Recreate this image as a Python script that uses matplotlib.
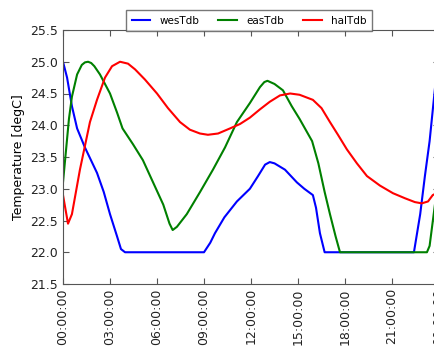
import matplotlib
matplotlib.use("Agg")
import matplotlib.pyplot as plt
import numpy as np

# hours since midnight
wes_t = [0, 0.26, 0.57, 0.9, 1.4, 2.17, 2.6, 3.0, 3.45, 3.7, 3.96, 9.0, 9.4, 9.7, 10.3, 11.1,
         11.93, 12.45, 12.9, 13.2, 13.5, 14.17, 14.93, 15.4, 15.95, 16.15, 16.4, 16.7,
         22.4, 22.8, 23.1, 23.4, 23.75, 24.0]
wes_v = [25.0, 24.75, 24.3, 23.95, 23.65, 23.25, 22.95, 22.6, 22.25, 22.05, 22.0, 22.0, 22.15,
         22.3, 22.55, 22.8, 23.0, 23.2, 23.38, 23.42, 23.4, 23.3, 23.1, 23.0, 22.9, 22.7, 22.3,
         22.0, 22.0, 22.6, 23.2, 23.75, 24.6, 25.0]

eas_t = [0, 0.19, 0.38, 0.57, 0.9, 1.2, 1.4, 1.6, 1.8, 2.0, 2.36, 3.0, 3.45, 3.8, 4.47, 5.1,
         5.75, 6.4, 6.8, 7.0, 7.27, 7.9, 8.75, 9.57, 10.34, 11.1, 11.93, 12.57, 12.85, 13.05,
         13.5, 14.04, 14.6, 15.1, 15.9, 16.3, 16.7, 17.04, 17.4, 17.68, 23.23, 23.4, 23.74, 24.0]
eas_v = [23.1, 23.6, 24.1, 24.45, 24.8, 24.95, 24.99, 25.0, 24.98, 24.93, 24.8, 24.5, 24.2,
         23.95, 23.7, 23.45, 23.1, 22.75, 22.45, 22.35, 22.4, 22.6, 22.95, 23.3, 23.65, 24.05,
         24.35, 24.6, 24.68, 24.7, 24.65, 24.55, 24.3, 24.1, 23.75, 23.4, 22.95, 22.6, 22.25,
         22.0, 22.0, 22.1, 22.75, 23.1]

hal_t = [0, 0.32, 0.57, 1.08, 1.72, 2.17, 2.68, 3.13, 3.64, 4.15, 4.6, 5.23, 6.0, 6.7, 7.47,
         8.1, 8.74, 9.25, 9.9, 10.66, 11.3, 11.93, 12.57, 13.2, 13.85, 14.5, 15.1, 15.95, 16.5,
         17.04, 17.55, 18.12, 18.76, 19.4, 20.23, 21.06, 21.83, 22.46, 22.9, 23.3, 23.6, 24.0]
hal_v = [22.9, 22.45, 22.6, 23.3, 24.05, 24.4, 24.75, 24.93, 25.0, 24.97, 24.88, 24.72, 24.5,
         24.27, 24.05, 23.93, 23.87, 23.85, 23.87, 23.95, 24.02, 24.12, 24.25, 24.37, 24.47,
         24.5, 24.48, 24.4, 24.27, 24.05, 23.85, 23.62, 23.4, 23.2, 23.05, 22.93, 22.85, 22.79,
         22.77, 22.8, 22.9, 22.95]

xticks = [0, 3, 6, 9, 12, 15, 18, 21, 24]
xticklabels = ["00:00:00", "03:00:00", "06:00:00", "09:00:00", "12:00:00",
               "15:00:00", "18:00:00", "21:00:00", "00:00:00"]
yticks = [21.5, 22.0, 22.5, 23.0, 23.5, 24.0, 24.5, 25.0, 25.5]

W, H = 435, 354
fig = plt.figure(figsize=(W / 100, H / 100), dpi=100)
left, right = 63, 439
bottom, top = 284, 30
ax = fig.add_axes([left / W, 1 - bottom / H, (right - left) / W, (bottom - top) / H])

ax.plot(wes_t, wes_v, color=(0, 0, 1), lw=1.5, label="wesTdb")
ax.plot(eas_t, eas_v, color=(0, 0.5, 0), lw=1.5, label="easTdb")
ax.plot(hal_t, hal_v, color=(1, 0, 0), lw=1.5, label="halTdb")

ax.set_xlim(0, 24)
ax.set_ylim(21.5, 25.5)
ax.set_xticks(xticks)
ax.set_xticklabels(xticklabels, rotation=90, fontsize=9)
ax.set_yticks(yticks)
ax.set_yticklabels([f"{v:.1f}" for v in yticks], fontsize=9)
ax.set_ylabel("Temperature [degC]", fontsize=9)

for s in ax.spines.values():
    s.set_color("#555555")
ax.tick_params(direction="in", top=True, right=True, length=4, color="#555555",
               labelcolor="#222222")
ax.tick_params(axis="x", pad=3)

leg = ax.legend(loc="lower center", bbox_to_anchor=(0.495, 0.997), ncol=3, fontsize=7.5,
                frameon=True, fancybox=False, borderaxespad=0, handlelength=1.8,
                handletextpad=0.9, columnspacing=1.8, borderpad=0.5)
leg.get_frame().set_edgecolor("#555555")
leg.get_frame().set_linewidth(1.0)

fig.savefig("out.png", dpi=100)
